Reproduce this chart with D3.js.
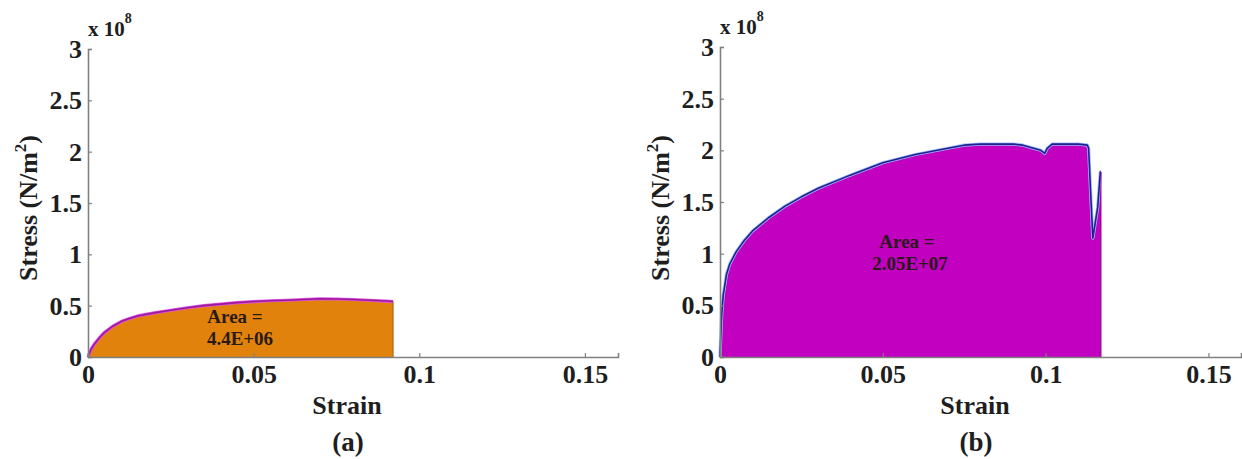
<!DOCTYPE html>
<html><head><meta charset="utf-8">
<script src="https://cdn.jsdelivr.net/npm/d3@7"></script>
<style>body{margin:0;background:#fff}svg{display:block}</style>
</head><body>
<svg id="c" width="1242" height="459"></svg>
<script>
// Data
const strainA = [0,0.001,0.002,0.0035,0.005,0.0075,0.01,0.0125,0.015,0.02,0.025,0.03,0.035,0.04,0.045,0.05,0.055,0.06,0.065,0.07,0.075,0.08,0.085,0.09,0.0921];
const stressA = [0,0.08,0.13,0.19,0.24,0.30,0.345,0.375,0.40,0.43,0.455,0.48,0.50,0.515,0.53,0.54,0.548,0.553,0.56,0.567,0.565,0.56,0.553,0.545,0.54];
const strainB = [0,0.0005,0.001,0.002,0.003,0.005,0.0075,0.01,0.015,0.02,0.025,0.03,0.04,0.05,0.06,0.07,0.075,0.08,0.09,0.093,0.0985,0.0997,0.1005,0.102,0.11,0.1128,0.1132,0.1138,0.1145,0.116,0.1168,0.117];
const stressB = [0,0.4,0.6,0.8,0.9,1.02,1.13,1.22,1.35,1.46,1.55,1.63,1.76,1.88,1.96,2.02,2.05,2.06,2.06,2.05,2.0,1.97,2.02,2.06,2.06,2.05,2.02,1.6,1.15,1.45,1.79,1.79];
const xTicks = [0,0.05,0.1,0.15];
const yTicks = [0,0.5,1,1.5,2,2.5,3];
const panels = [
  {id:"(a)", x:strainA, y:stressA, left:88, right:618, top:49, bottom:357, fill:"#e0820c", line:"#9a1a9a", halo:"#e050e0", area:["Area =","4.4E+06"], areaX:[235,240], areaY:[323,345], labX:347},
  {id:"(b)", x:strainB, y:stressB, left:720, right:1241, top:47, bottom:357, fill:"#c200c0", line:"#22208e", halo:"#9ab8ff", area:["Area =","2.05E+07"], areaX:[907,910], areaY:[248,270], labX:975}
];
const svg = d3.select("#c");
const font = "'Liberation Serif','Times New Roman',serif";
const ink = "#1e1e1e";
panels.forEach(p=>{
  const x = d3.scaleLinear().domain([0,0.16]).range([p.left,p.right]);
  const y = d3.scaleLinear().domain([0,3]).range([p.bottom,p.top]);
  const g = svg.append("g");
  const pts = p.x.map((v,i)=>[v,p.y[i]]);
  g.append("path").datum(pts)
    .attr("d", d3.area().x(d=>x(d[0])).y0(y(0)).y1(d=>y(d[1])))
    .attr("fill", p.fill);
  g.append("path").datum(pts)
    .attr("d", d3.line().x(d=>x(d[0])).y(d=>y(d[1])))
    .attr("fill","none").attr("stroke",p.halo).attr("stroke-width",3.2).attr("stroke-linejoin","round");
  g.append("path").datum(pts)
    .attr("d", d3.line().x(d=>x(d[0])).y(d=>y(d[1])))
    .attr("fill","none").attr("stroke",p.line).attr("stroke-width",1.6).attr("stroke-linejoin","round");
  const last = pts[pts.length-1];
  g.append("line").attr("x1",x(last[0])).attr("x2",x(last[0])).attr("y1",y(last[1])).attr("y2",y(0))
    .attr("stroke", d3.color(p.fill).darker(0.8)).attr("stroke-width",1);
  // axes
  const xa = g.append("g").attr("transform",`translate(0,${p.bottom})`)
    .call(d3.axisBottom(x).tickValues(xTicks).tickSize(-4).tickPadding(10).tickFormat(d=>d===0?"0":String(d)));
  const ya = g.append("g").attr("transform",`translate(${p.left},0)`)
    .call(d3.axisLeft(y).tickValues(yTicks).tickSize(-4).tickPadding(6).tickFormat(d=>String(d)));
  [xa,ya].forEach(a=>{
    a.select(".domain").attr("stroke","#808080").attr("stroke-width",1.6);
    a.selectAll(".tick line").attr("stroke","#808080").attr("stroke-width",1.2);
    a.selectAll(".tick text").attr("font-family",font).attr("font-weight","bold").attr("font-size",26).attr("fill",ink);
  });
  xa.selectAll(".tick text").attr("dy","0.62em");
  ya.selectAll(".tick text").attr("dy","0.33em");
  // exponent label
  const ex = g.append("text").attr("x",p.left).attr("y",p.top-13)
    .attr("font-family",font).attr("font-weight","bold").attr("font-size",21).attr("fill",ink);
  ex.append("tspan").text("x 10");
  ex.append("tspan").attr("dy",-13).attr("font-size",14).text("8");
  // axis labels
  g.append("text").attr("x",p.labX).attr("y",414).attr("text-anchor","middle")
    .attr("font-family",font).attr("font-weight","bold").attr("font-size",26).attr("fill",ink).text("Strain");
  g.append("text").attr("x",p.labX+1).attr("y",451).attr("text-anchor","middle")
    .attr("font-family",font).attr("font-weight","bold").attr("font-size",27).attr("fill",ink).text(p.id);
  const yl = g.append("text").attr("transform",`translate(${p.left-51},208) rotate(-90)`)
    .attr("text-anchor","middle").attr("font-family",font).attr("font-weight","bold").attr("font-size",26).attr("fill",ink);
  yl.append("tspan").text("Stress (N/m");
  yl.append("tspan").attr("dy",-11).attr("font-size",17).text("2");
  yl.append("tspan").attr("dy",11).text(")");
  // area annotation
  p.area.forEach((t,i)=>{
    g.append("text").attr("x",p.areaX[i]).attr("y",p.areaY[i]).attr("text-anchor","middle")
      .attr("font-family",font).attr("font-weight","bold").attr("font-size",19).attr("fill","#2a1a1a").text(t);
  });
});
</script>
</body></html>
